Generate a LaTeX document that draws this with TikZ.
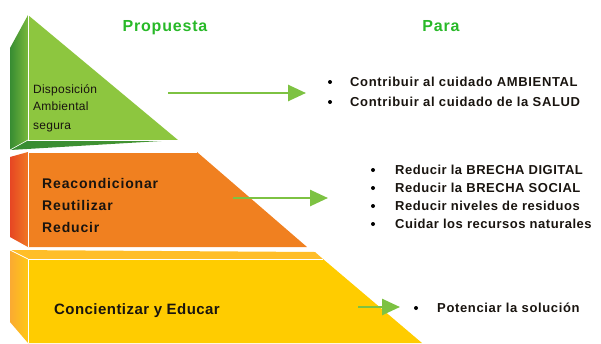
\documentclass[tikz,border=0pt]{standalone}
\usepackage{fontspec}
\setmainfont{Liberation Sans}
\usetikzlibrary{arrows.meta}
\definecolor{gfront}{RGB}{141,198,63}
\definecolor{gsideL}{RGB}{55,140,50}
\definecolor{gsideR}{RGB}{120,185,60}
\definecolor{gbot}{RGB}{70,150,50}
\definecolor{ofront}{RGB}{240,128,32}
\definecolor{osideL}{RGB}{230,70,35}
\definecolor{osideR}{RGB}{240,120,35}
\definecolor{yfront}{RGB}{255,204,0}
\definecolor{ysideL}{RGB}{250,170,50}
\definecolor{ysideR}{RGB}{255,200,20}
\definecolor{ytop}{RGB}{255,190,40}
\definecolor{arrowgreen}{RGB}{125,194,66}
\definecolor{titlegreen}{RGB}{40,185,40}
\definecolor{txt}{RGB}{25,20,15}
\tikzset{
  blocktext/.style={anchor=base west, inner sep=0pt, text=txt},
  bullettext/.style={anchor=base west, inner sep=0pt, text=txt, font=\fontsize{13}{15}\selectfont\bfseries\addfontfeatures{LetterSpace=4}},
  bulletdot/.style={circle, fill=black, inner sep=0pt, minimum size=4pt},
  title/.style={anchor=base, inner sep=0pt, text=titlegreen, font=\fontsize{16}{18}\selectfont\bfseries\addfontfeatures{LetterSpace=5}},
  linkarrow/.style={draw=arrowgreen, line width=2.6pt, -{Triangle[length=18pt,width=16pt]}}
}
\begin{document}
\begin{tikzpicture}[x=1pt,y=-1pt]
\useasboundingbox (0,0) rectangle (601,343);
% ---- yellow block
\shade[left color=ysideL, right color=ysideR] (10,250) -- (28,259) -- (28,343) -- (10,322) -- cycle;
\fill[ytop] (10,250) -- (315,252) -- (323,259) -- (28,259) -- cycle;
\fill[yfront] (28,259) -- (323,259) -- (422,343) -- (28,343) -- cycle;
\draw[white, line width=0.8pt] (28,343) -- (28,259) -- (323,259);
\draw[white, line width=0.8pt] (10,250) -- (28,259);
% ---- orange block
\shade[left color=osideL, right color=osideR] (10,157) -- (28,152) -- (28,247) -- (10,237) -- cycle;
\fill[ofront] (28,152) -- (197,152) -- (307,247) -- (28,247) -- cycle;
\draw[white, line width=0.8pt] (28,247) -- (28,152) -- (197,152);
% ---- green block
\shade[left color=gsideL, right color=gsideR] (10,48) -- (28,15) -- (28,140) -- (10,150) -- cycle;
\shade[left color=gsideL, right color=gbot] (10,150) -- (28,140) -- (178,140) -- cycle;
\fill[gfront] (28,15) -- (28,140) -- (178,140) -- cycle;
\draw[white, line width=0.8pt] (28,15) -- (28,140) -- (178,140);
\draw[white, line width=0.6pt] (10,150) -- (28,140);
% ---- titles
\node[title] (tprop) at (165,31) {Propuesta};
\node[title] (tpara) at (441,31) {Para};
% ---- block texts
\node[blocktext, font=\fontsize{12}{14}\selectfont\addfontfeatures{LetterSpace=2}] (d1) at (33,93) {Disposición};
\node[blocktext, font=\fontsize{12}{14}\selectfont\addfontfeatures{LetterSpace=2}] (d2) at (33,110) {Ambiental};
\node[blocktext, font=\fontsize{12}{14}\selectfont\addfontfeatures{LetterSpace=2}] (d3) at (33,129) {segura};
\node[blocktext, font=\fontsize{14}{16}\selectfont\bfseries\addfontfeatures{LetterSpace=6}] (r1) at (42,188) {Reacondicionar};
\node[blocktext, font=\fontsize{14}{16}\selectfont\bfseries\addfontfeatures{LetterSpace=6}] (r2) at (42,210) {Reutilizar};
\node[blocktext, font=\fontsize{14}{16}\selectfont\bfseries\addfontfeatures{LetterSpace=6}] (r3) at (42,232) {Reducir};
\node[blocktext, font=\fontsize{15}{17}\selectfont\bfseries\addfontfeatures{LetterSpace=3}] (c1) at (54,314) {Concientizar y Educar};
% ---- bullet lists
\node[bulletdot] (b11) at (330,82) {};
\node[bullettext, font=\fontsize{13}{15}\selectfont\bfseries\addfontfeatures{LetterSpace=5}] (p11) at (350,86) {Contribuir al cuidado AMBIENTAL};
\node[bulletdot] (b12) at (330,102) {};
\node[bullettext, font=\fontsize{13}{15}\selectfont\bfseries\addfontfeatures{LetterSpace=5}] (p12) at (350,106) {Contribuir al cuidado de la SALUD};
\node[bulletdot] (b21) at (373,170) {};
\node[bullettext] (p21) at (395,174) {Reducir la BRECHA DIGITAL};
\node[bulletdot] (b22) at (373,188) {};
\node[bullettext] (p22) at (395,192) {Reducir la BRECHA SOCIAL};
\node[bulletdot] (b23) at (373,206) {};
\node[bullettext] (p23) at (395,210) {Reducir niveles de residuos};
\node[bulletdot] (b24) at (373,224) {};
\node[bullettext] (p24) at (395,228) {Cuidar los recursos naturales};
\node[bulletdot] (b31) at (416,308) {};
\node[bullettext, font=\fontsize{13}{15}\selectfont\bfseries\addfontfeatures{LetterSpace=5}] (p31) at (437,312) {Potenciar la solución};
% ---- arrows
\coordinate (a1s) at (168,93);
\coordinate (a1e) at (306,93);
\coordinate (a2s) at (233,198);
\coordinate (a2e) at (328,198);
\coordinate (a3s) at (358,307);
\coordinate (a3e) at (400,307);
\draw[linkarrow] (a1s) -- (a1e);
\draw[linkarrow] (a2s) -- (a2e);
\draw[linkarrow] (a3s) -- (a3e);
\end{tikzpicture}
\end{document}
